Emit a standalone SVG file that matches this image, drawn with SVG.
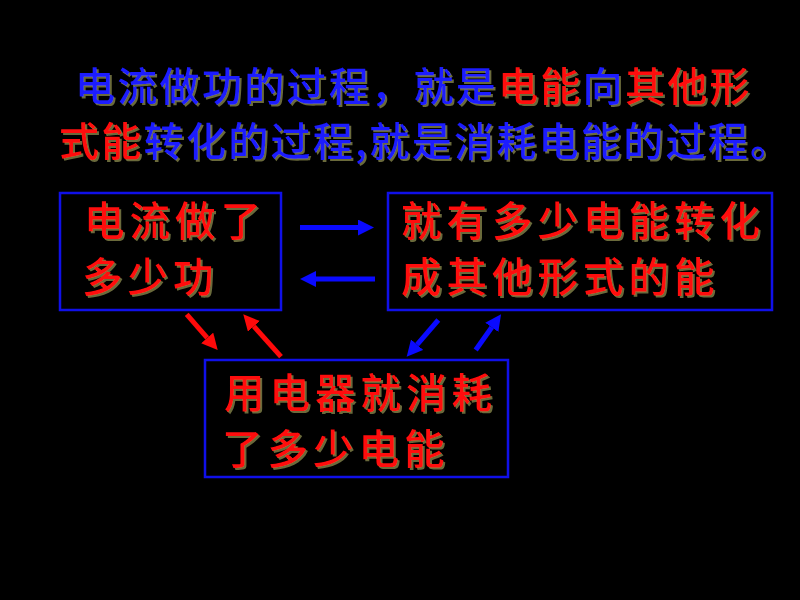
<svg xmlns="http://www.w3.org/2000/svg" width="800" height="600" viewBox="0 0 800 600">
<defs>
<filter id="sh" x="-5%" y="-5%" width="110%" height="120%">
<feDropShadow dx="2" dy="2" stdDeviation="0" flood-color="#6b6b3a" flood-opacity="1"/>
</filter>
<marker id="hb" markerUnits="userSpaceOnUse" markerWidth="17" markerHeight="17" refX="0" refY="8" orient="auto">
<path d="M0,0 L16,8 L0,16 z" fill="#0a0aff"/>
</marker>
<marker id="hr" markerUnits="userSpaceOnUse" markerWidth="17" markerHeight="17" refX="0" refY="8" orient="auto">
<path d="M0,0 L16,8 L0,16 z" fill="#ff0a0a"/>
</marker>
</defs>
<style>
text{font-family:"Noto Sans CJK SC","Liberation Sans",sans-serif;font-weight:500;filter:url(#sh)}
.t{font-size:40px;letter-spacing:2.3px}
.b{font-size:40.5px;letter-spacing:5px;fill:#ff0a0a}
.bl{fill:#1a1aff}
.rd{fill:#ff0a0a}
.box{fill:none;stroke:#1010e8;stroke-width:2.5}
.ab{stroke:#0a0aff;stroke-width:5;marker-end:url(#hb)}
.ar{stroke:#ff0a0a;stroke-width:5;marker-end:url(#hr)}
</style>
<rect width="800" height="600" fill="#000"/>
<g id="title">
<text class="t"><tspan x="75" y="101"><tspan class="bl">电流做功的过程，就是</tspan><tspan class="rd">电能</tspan><tspan class="bl">向</tspan><tspan class="rd">其他形</tspan></tspan><tspan x="59" y="156"><tspan class="rd">式能</tspan><tspan class="bl">转化的过程,就是消耗电能的过程。</tspan></tspan></text>
</g>
<g id="node-work">
<rect class="box" x="60" y="193" width="221" height="117"/>
<text class="b"><tspan x="84" y="236">电流做了</tspan><tspan x="82" y="292">多少功</tspan></text>
</g>
<g id="node-convert">
<rect class="box" x="388" y="193" width="384" height="117"/>
<text class="b"><tspan x="401" y="236">就有多少电能转化</tspan><tspan x="401" y="292">成其他形式的能</tspan></text>
</g>
<g id="node-consume">
<rect class="box" x="205" y="360" width="303" height="117"/>
<text class="b"><tspan x="224" y="408">用电器就消耗</tspan><tspan x="222" y="464">了多少电能</tspan></text>
</g>
<g id="connectors">
<line class="ab" x1="300" y1="227.5" x2="358" y2="227.5"/>
<line class="ab" x1="375" y1="279" x2="316" y2="279"/>
<line class="ar" x1="186.7" y1="314.3" x2="207.2" y2="337.9"/>
<line class="ar" x1="281" y1="356.7" x2="253.9" y2="326.3"/>
<line class="ab" x1="438.3" y1="320" x2="417.1" y2="344.6"/>
<line class="ab" x1="475.7" y1="350" x2="491.8" y2="327.3"/>
</g>
</svg>
